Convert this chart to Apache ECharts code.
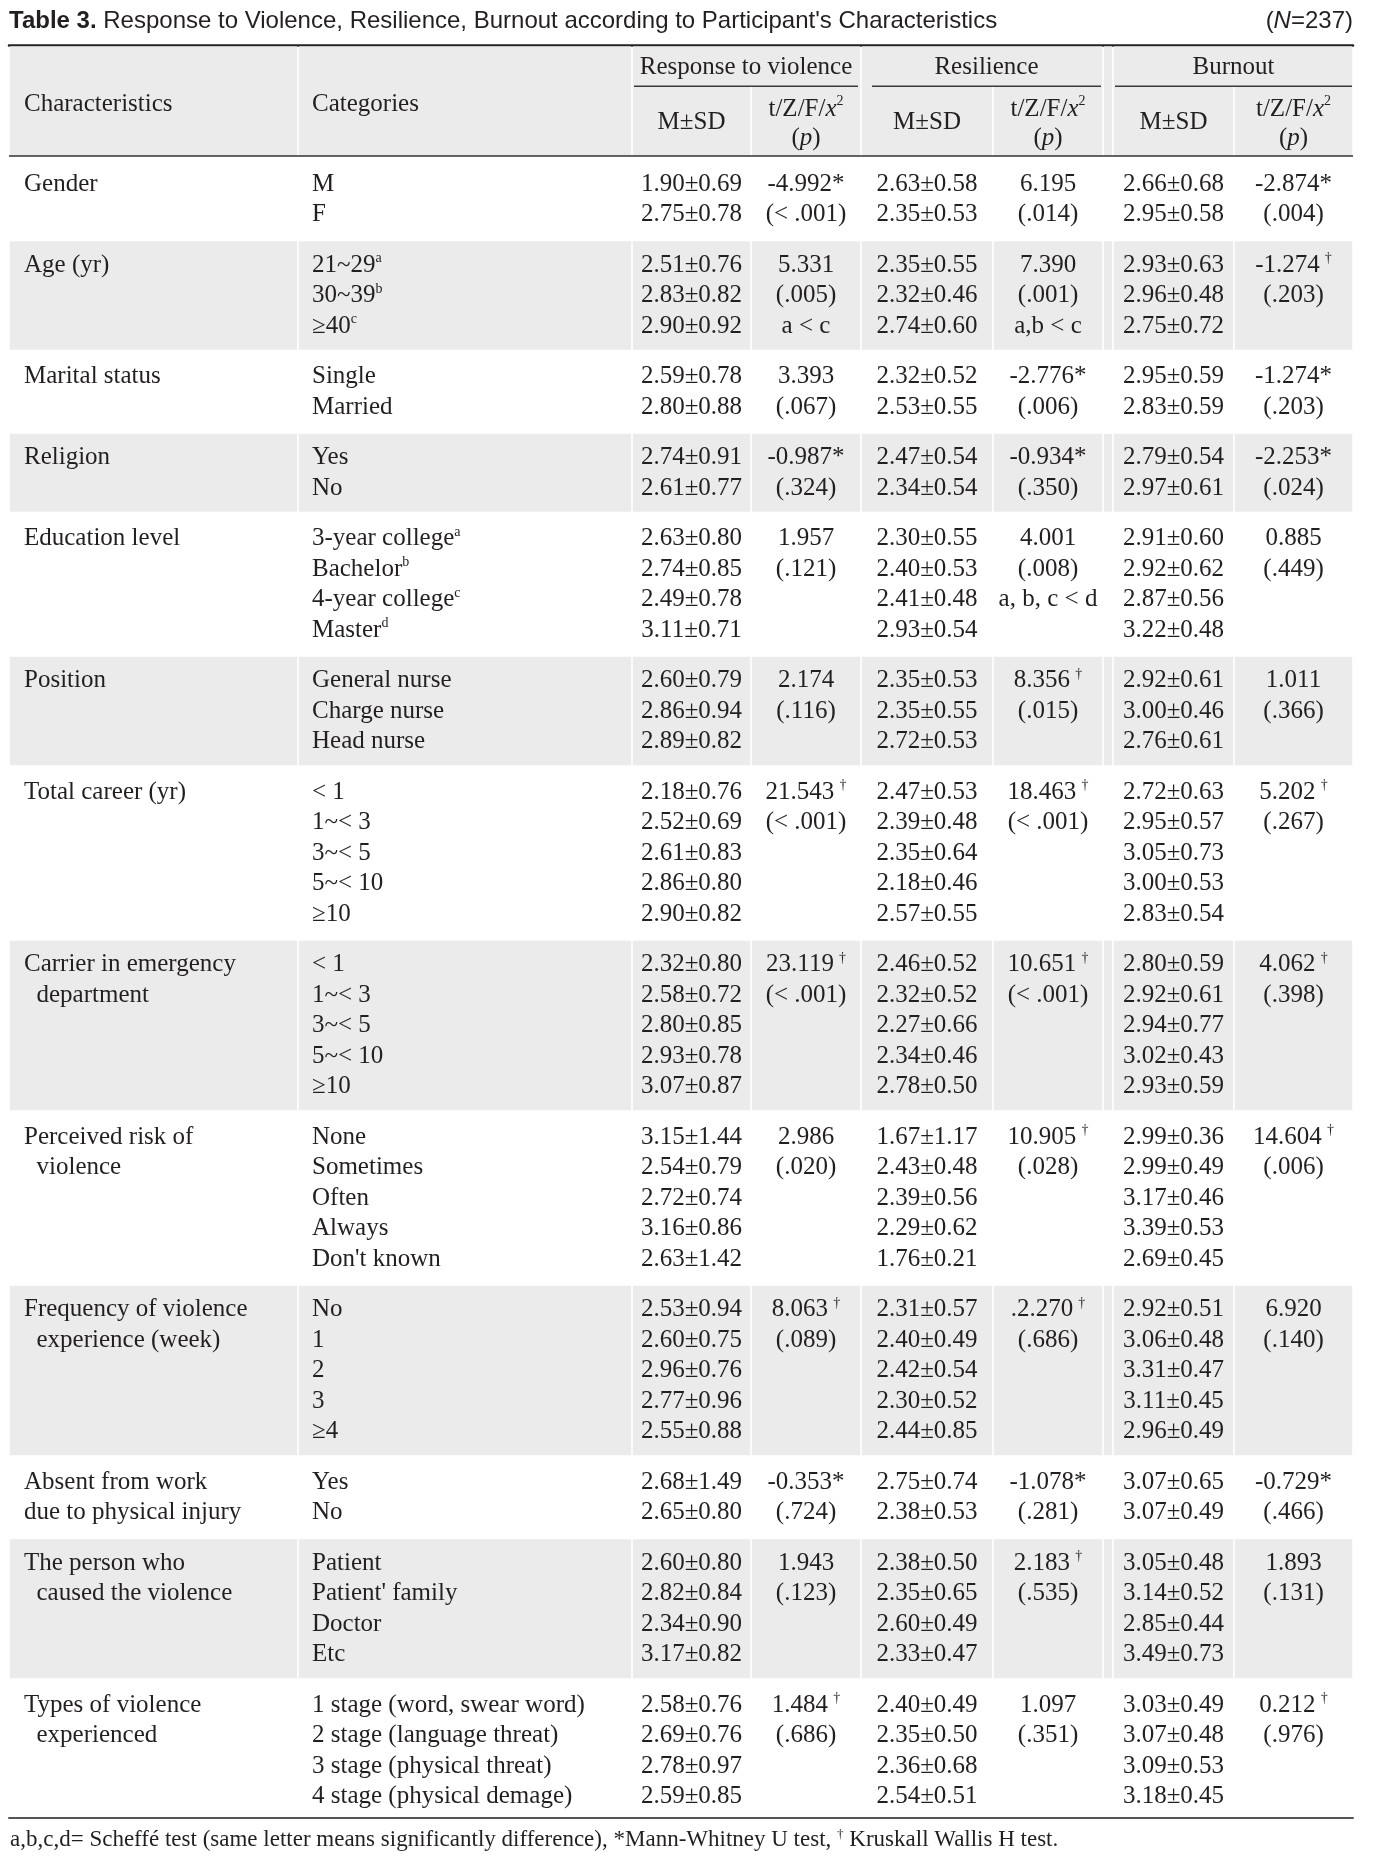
<!DOCTYPE html>
<html>
<head>
<meta charset="utf-8">
<title>Table 3</title>
<script src="https://cdn.jsdelivr.net/npm/echarts@6/dist/echarts.min.js"></script>
<style>
html, body { margin: 0; padding: 0; background: #fff; }
#main { width: 1374px; height: 1859px; }
</style>
</head>
<body>
<div id="main"></div>
<script>
// ---- data read off the table ----
// "^x" marks a superscript, leading spaces are the hanging indent of a wrapped label
const characteristics = [
  ['Gender'], ['Age (yr)'], ['Marital status'], ['Religion'], ['Education level'], ['Position'],
  ['Total career (yr)'], ['Carrier in emergency', '  department'], ['Perceived risk of', '  violence'],
  ['Frequency of violence', '  experience (week)'], ['Absent from work', 'due to physical injury'],
  ['The person who', '  caused the violence'], ['Types of violence', '  experienced']
]
const categories = [
  ['M', 'F'],
  ['21~29^a', '30~39^b', '≥40^c'],
  ['Single', 'Married'],
  ['Yes', 'No'],
  ['3-year college^a', 'Bachelor^b', '4-year college^c', 'Master^d'],
  ['General nurse', 'Charge nurse', 'Head nurse'],
  ['< 1', '1~< 3', '3~< 5', '5~< 10', '≥10'],
  ['< 1', '1~< 3', '3~< 5', '5~< 10', '≥10'],
  ['None', 'Sometimes', 'Often', 'Always', "Don't known"],
  ['No', '1', '2', '3', '≥4'],
  ['Yes', 'No'],
  ['Patient', "Patient' family", 'Doctor', 'Etc'],
  ['1 stage (word, swear word)', '2 stage (language threat)', '3 stage (physical threat)', '4 stage (physical demage)']
]

// Response to violence
const violenceMean = [
  [1.90, 2.75], [2.51, 2.83, 2.90], [2.59, 2.80], [2.74, 2.61], [2.63, 2.74, 2.49, 3.11],
  [2.60, 2.86, 2.89], [2.18, 2.52, 2.61, 2.86, 2.90], [2.32, 2.58, 2.80, 2.93, 3.07],
  [3.15, 2.54, 2.72, 3.16, 2.63], [2.53, 2.60, 2.96, 2.77, 2.55], [2.68, 2.65],
  [2.60, 2.82, 2.34, 3.17], [2.58, 2.69, 2.78, 2.59]
]
const violenceSD = [
  [0.69, 0.78], [0.76, 0.82, 0.92], [0.78, 0.88], [0.91, 0.77], [0.80, 0.85, 0.78, 0.71],
  [0.79, 0.94, 0.82], [0.76, 0.69, 0.83, 0.80, 0.82], [0.80, 0.72, 0.85, 0.78, 0.87],
  [1.44, 0.79, 0.74, 0.86, 1.42], [0.94, 0.75, 0.76, 0.96, 0.88], [1.49, 0.80],
  [0.80, 0.84, 0.90, 0.82], [0.76, 0.76, 0.97, 0.85]
]
const violenceStat = [
  ['-4.992*', '(< .001)'], ['5.331', '(.005)', 'a < c'], ['3.393', '(.067)'], ['-0.987*', '(.324)'],
  ['1.957', '(.121)'], ['2.174', '(.116)'], ['21.543^†', '(< .001)'], ['23.119^†', '(< .001)'],
  ['2.986', '(.020)'], ['8.063^†', '(.089)'], ['-0.353*', '(.724)'], ['1.943', '(.123)'], ['1.484^†', '(.686)']
]

// Resilience
const resilienceMean = [
  [2.63, 2.35], [2.35, 2.32, 2.74], [2.32, 2.53], [2.47, 2.34], [2.30, 2.40, 2.41, 2.93],
  [2.35, 2.35, 2.72], [2.47, 2.39, 2.35, 2.18, 2.57], [2.46, 2.32, 2.27, 2.34, 2.78],
  [1.67, 2.43, 2.39, 2.29, 1.76], [2.31, 2.40, 2.42, 2.30, 2.44], [2.75, 2.38],
  [2.38, 2.35, 2.60, 2.33], [2.40, 2.35, 2.36, 2.54]
]
const resilienceSD = [
  [0.58, 0.53], [0.55, 0.46, 0.60], [0.52, 0.55], [0.54, 0.54], [0.55, 0.53, 0.48, 0.54],
  [0.53, 0.55, 0.53], [0.53, 0.48, 0.64, 0.46, 0.55], [0.52, 0.52, 0.66, 0.46, 0.50],
  [1.17, 0.48, 0.56, 0.62, 0.21], [0.57, 0.49, 0.54, 0.52, 0.85], [0.74, 0.53],
  [0.50, 0.65, 0.49, 0.47], [0.49, 0.50, 0.68, 0.51]
]
const resilienceStat = [
  ['6.195', '(.014)'], ['7.390', '(.001)', 'a,b < c'], ['-2.776*', '(.006)'], ['-0.934*', '(.350)'],
  ['4.001', '(.008)', 'a, b, c < d'], ['8.356^†', '(.015)'], ['18.463^†', '(< .001)'], ['10.651^†', '(< .001)'],
  ['10.905^†', '(.028)'], ['.2.270^†', '(.686)'], ['-1.078*', '(.281)'], ['2.183^†', '(.535)'], ['1.097', '(.351)']
]

// Burnout
const burnoutMean = [
  [2.66, 2.95], [2.93, 2.96, 2.75], [2.95, 2.83], [2.79, 2.97], [2.91, 2.92, 2.87, 3.22],
  [2.92, 3.00, 2.76], [2.72, 2.95, 3.05, 3.00, 2.83], [2.80, 2.92, 2.94, 3.02, 2.93],
  [2.99, 2.99, 3.17, 3.39, 2.69], [2.92, 3.06, 3.31, 3.11, 2.96], [3.07, 3.07],
  [3.05, 3.14, 2.85, 3.49], [3.03, 3.07, 3.09, 3.18]
]
const burnoutSD = [
  [0.68, 0.58], [0.63, 0.48, 0.72], [0.59, 0.59], [0.54, 0.61], [0.60, 0.62, 0.56, 0.48],
  [0.61, 0.46, 0.61], [0.63, 0.57, 0.73, 0.53, 0.54], [0.59, 0.61, 0.77, 0.43, 0.59],
  [0.36, 0.49, 0.46, 0.53, 0.45], [0.51, 0.48, 0.47, 0.45, 0.49], [0.65, 0.49],
  [0.48, 0.52, 0.44, 0.73], [0.49, 0.48, 0.53, 0.45]
]
const burnoutStat = [
  ['-2.874*', '(.004)'], ['-1.274^†', '(.203)'], ['-1.274*', '(.203)'], ['-2.253*', '(.024)'],
  ['0.885', '(.449)'], ['1.011', '(.366)'], ['5.202^†', '(.267)'], ['4.062^†', '(.398)'],
  ['14.604^†', '(.006)'], ['6.920', '(.140)'], ['-0.729*', '(.466)'], ['1.893', '(.131)'], ['0.212^†', '(.976)']
]

const groupHeads = ['Response to violence', 'Resilience', 'Burnout']

// ---- layout ----
const LINE_PX = 30.5 // one text line, in pixels
const GAP = 20 / LINE_PX // extra space between groups, in lines
const U_TOP = -4.56 // top rule
const U_GROUP = -3.84
const U_UNDER = -3.21
const U_HEAD = -2.62
const U_SUB = -2.03
const U_HEAD_BOT = -0.92
const COLS = [9, 298, 632, 751, 861, 993, 1103, 1113, 1234, 1353]
const CHAR_X = 24
const CAT_X = 312
const UNDERLINES = [[634, 858], [872, 1101], [1115, 1352]]
const INK = '#231f20'
const GRAY = '#ebebeb'
const SERIF = 'Liberation Serif'
const FS = 25

const mid = (a, b) => (a + b) / 2
const valueCols = [
  [mid(COLS[2], COLS[3]), violenceMean, violenceSD, mid(COLS[3], COLS[4]), violenceStat],
  [mid(COLS[4], COLS[5]), resilienceMean, resilienceSD, mid(COLS[5], COLS[6]), resilienceStat],
  [mid(COLS[7], COLS[8]), burnoutMean, burnoutSD, mid(COLS[8], COLS[9]), burnoutStat]
]
const sup = s => s.replace(/\^†/g, '\u2009{s|†}').replace(/\^(.)/g, '{s|$1}')

const texts = []
const rects = []
const rules = []

let line = 0
characteristics.forEach((ch, g) => {
  const n = categories[g].length
  const first = line + g * GAP
  const last = first + n - 1
  ch.forEach((t, k) => texts.push({ x: CHAR_X, u: first + k, text: t, align: 'left' }))
  categories[g].forEach((t, k) => texts.push({ x: CAT_X, u: first + k, text: sup(t), align: 'left' }))
  valueCols.forEach(([mx, means, sds, sx, stats]) => {
    means[g].forEach((m, k) => texts.push({ x: mx, u: first + k, text: m.toFixed(2) + '±' + sds[g][k].toFixed(2), align: 'center' }))
    stats[g].forEach((t, k) => texts.push({ x: sx, u: first + k, text: sup(t), align: 'center' }))
  })
  if (g % 2 === 1) {
    const top = first - (1 + GAP) / 2 + 0.05
    const bot = last + (1 + GAP) / 2 - 0.05
    for (let c = 0; c < COLS.length - 1; c++) rects.push([COLS[c], top, COLS[c + 1], bot])
  }
  line += n
})
const U_LAST = line - 1 + (characteristics.length - 1) * GAP
const U_BOT = U_LAST + 0.7

// header cells
const hTop = U_TOP + 0.04
const hBot = U_HEAD_BOT
rects.push([COLS[0], hTop, COLS[1], hBot], [COLS[1], hTop, COLS[2], hBot])
rects.push([COLS[2], hTop, COLS[4], U_UNDER], [COLS[4], hTop, COLS[6], U_UNDER],
  [COLS[6], hTop, COLS[7], U_UNDER], [COLS[7], hTop, COLS[9], U_UNDER])
for (let c = 2; c < COLS.length - 1; c++) rects.push([COLS[c], U_UNDER, COLS[c + 1], hBot])

// header text
texts.push({ x: CHAR_X, u: U_HEAD, text: 'Characteristics', align: 'left' })
texts.push({ x: CAT_X, u: U_HEAD, text: 'Categories', align: 'left' })
groupHeads.forEach((h, i) => {
  texts.push({ x: mid(UNDERLINES[i][0], UNDERLINES[i][1]), u: U_GROUP, text: h, align: 'center' })
  texts.push({ x: valueCols[i][0], u: U_SUB, text: 'M±SD', align: 'center' })
  texts.push({ x: valueCols[i][3], u: U_SUB + 0.05, text: 't/Z/F/{i|x}{s|2}\n({i|p})', align: 'center', lh: 29 })
})

// horizontal rules besides the axis lines
UNDERLINES.forEach(([a, b]) => rules.push([a, U_UNDER, b, U_UNDER, 1.5, '#3a3a3a']))
rules.push([COLS[0], U_HEAD_BOT, COLS[9], U_HEAD_BOT, 1.5, '#333'])

const rich = {
  s: { fontFamily: SERIF, fontSize: 14, verticalAlign: 'top', fill: INK, color: INK },
  i: { fontFamily: SERIF, fontSize: FS, fontStyle: 'italic', fill: INK, color: INK, lineHeight: 29 }
}

const chart = echarts.init(document.getElementById('main'), null, { renderer: 'canvas' })

const option = {
  animation: false,
  backgroundColor: '#fff',
  title: [
    {
      left: 9, top: 9, padding: 0,
      text: "{b|Table 3.} Response to Violence, Resilience, Burnout according to Participant's Characteristics",
      textStyle: {
        fontFamily: 'Liberation Sans', fontSize: 24, fontWeight: 'normal', color: INK,
        rich: { b: { fontFamily: 'Liberation Sans', fontSize: 24, fontWeight: 'bold', color: INK } }
      }
    },
    {
      right: 21, top: 9, padding: 0,
      text: '({i|N}=237)',
      textStyle: {
        fontFamily: 'Liberation Sans', fontSize: 24, fontWeight: 'normal', color: INK,
        rich: { i: { fontFamily: 'Liberation Sans', fontSize: 24, fontStyle: 'italic', color: INK } }
      }
    },
    {
      left: 10, top: 1828, padding: 0,
      text: 'a,b,c,d= Scheffé test (same letter means significantly difference), *Mann-Whitney U test, {s|†} Kruskall Wallis H test.',
      textStyle: {
        fontFamily: SERIF, fontSize: 23, fontWeight: 'normal', color: INK,
        rich: { s: { fontFamily: SERIF, fontSize: 13, verticalAlign: 'top', color: INK } }
      }
    }
  ],
  grid: {
    left: COLS[0], right: 1374 - COLS[9], top: 45,
    height: (U_BOT - U_TOP) * LINE_PX
  },
  xAxis: [
    {
      type: 'value', position: 'top', min: COLS[0], max: COLS[9],
      axisLine: { show: true, onZero: false, lineStyle: { color: '#222', width: 2.5 } },
      axisTick: { show: false }, axisLabel: { show: false }, splitLine: { show: false }
    },
    {
      type: 'value', position: 'bottom', min: COLS[0], max: COLS[9],
      axisLine: { show: true, onZero: false, lineStyle: { color: '#555', width: 2 } },
      axisTick: { show: false }, axisLabel: { show: false }, splitLine: { show: false }
    }
  ],
  yAxis: {
    type: 'value', inverse: true, min: U_TOP, max: U_BOT, show: false
  },
  series: [
    {
      type: 'custom', name: 'cells', z: 1, silent: true,
      data: rects.map((r, i) => [r[0], r[1], r[2], r[3], i]),
      encode: { x: [0, 2], y: [1, 3] },
      renderItem: (params, api) => {
        const p0 = api.coord([api.value(0), api.value(1)])
        const p1 = api.coord([api.value(2), api.value(3)])
        return {
          type: 'rect',
          shape: { x: p0[0] + 0.8, y: p0[1], width: p1[0] - p0[0] - 1.6, height: p1[1] - p0[1] },
          style: { fill: GRAY }
        }
      }
    },
    {
      type: 'custom', name: 'rules', z: 2, silent: true,
      data: rules.map((r, i) => [r[0], r[1], r[2], r[3], i]),
      encode: { x: [0, 2], y: [1, 3] },
      renderItem: (params, api) => {
        const r = rules[params.dataIndex]
        const p0 = api.coord([api.value(0), api.value(1)])
        const p1 = api.coord([api.value(2), api.value(3)])
        return {
          type: 'line',
          shape: { x1: p0[0], y1: p0[1], x2: p1[0], y2: p1[1] },
          style: { stroke: r[5], lineWidth: r[4] }
        }
      }
    },
    {
      type: 'custom', name: 'texts', z: 3, silent: true,
      data: texts.map((t, i) => [t.x, t.u, i]),
      encode: { x: 0, y: 1 },
      renderItem: (params, api) => {
        const t = texts[params.dataIndex]
        const p = api.coord([api.value(0), api.value(1)])
        return {
          type: 'text',
          x: p[0], y: p[1],
          style: {
            text: t.text,
            fontFamily: SERIF, fontSize: FS, fill: INK,
            align: t.align, verticalAlign: 'middle',
            lineHeight: t.lh || 27,
            rich: rich
          }
        }
      }
    }
  ]
}
chart.setOption(option)
</script>
</body>
</html>
